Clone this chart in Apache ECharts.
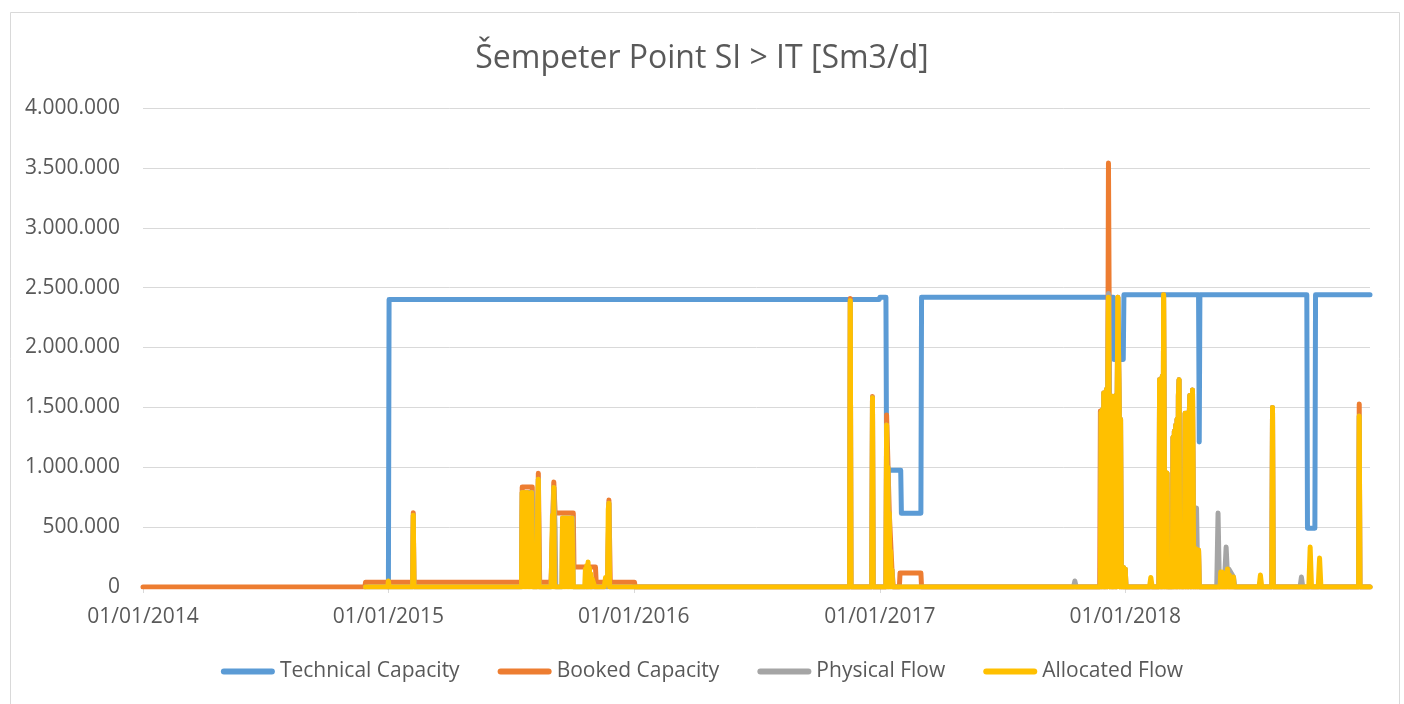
<!DOCTYPE html>
<html><head><meta charset="utf-8">
<script src="https://cdn.jsdelivr.net/npm/echarts@6/dist/echarts.min.js"></script>
<style>html,body{margin:0;padding:0;background:#fff}#c{width:1404px;height:704px}</style>
</head><body><div id="c"></div><script>
const titleText = 'Šempeter Point SI > IT [Sm3/d]';
const seriesNames = ['Technical Capacity', 'Booked Capacity', 'Physical Flow', 'Allocated Flow'];
const seriesColors = ['#5b9bd5', '#ed7d31', '#a5a5a5', '#ffc000'];
const yTicks = [0, 500000, 1000000, 1500000, 2000000, 2500000, 3000000, 3500000, 4000000];
const xStart = '2014-01-01';
const xEnd = '2018-12-31';

const technicalCapacity = [
  ['2015-01-01', 0], ['2015-01-02', 2400000], ['2016-12-31', 2400000],
  ['2017-01-01', 2420000], ['2017-01-10', 2420000], ['2017-01-11', 975000],
  ['2017-02-01', 975000], ['2017-02-02', 615000], ['2017-03-03', 615000],
  ['2017-03-04', 2420000], ['2017-12-14', 2420000], ['2017-12-15', 1900000],
  ['2017-12-29', 1900000], ['2017-12-30', 2440000], ['2018-04-20', 2440000],
  ['2018-04-21', 1210000], ['2018-04-22', 2440000], ['2018-09-28', 2440000],
  ['2018-09-29', 490000], ['2018-10-10', 490000], ['2018-10-11', 2440000],
  ['2018-12-31', 2440000]
];

// Dense winter 2017/18 flows (daily swings)
const allocatedDec2017 = [
  ['2017-11-25', 0], ['2017-11-26', 1460000], ['2017-11-27', 0], ['2017-11-28', 1480000], ['2017-11-29', 0],
  ['2017-11-30', 1620000], ['2017-12-01', 0], ['2017-12-02', 1600000], ['2017-12-03', 0],
  ['2017-12-04', 1650000], ['2017-12-05', 0], ['2017-12-06', 1700000], ['2017-12-07', 2420000],
  ['2017-12-08', 2420000], ['2017-12-09', 0], ['2017-12-10', 1600000], ['2017-12-11', 0],
  ['2017-12-12', 1580000], ['2017-12-13', 0], ['2017-12-14', 1590000], ['2017-12-15', 0],
  ['2017-12-16', 1580000], ['2017-12-17', 0], ['2017-12-18', 1600000], ['2017-12-19', 0],
  ['2017-12-20', 1600000], ['2017-12-21', 2420000], ['2017-12-22', 2420000], ['2017-12-23', 1500000],
  ['2017-12-24', 0], ['2017-12-25', 1400000], ['2017-12-26', 165000], ['2017-12-27', 0],
  ['2017-12-28', 165000], ['2017-12-29', 0], ['2017-12-30', 160000], ['2017-12-31', 0],
  ['2018-01-01', 150000], ['2018-01-02', 0]
];
const bookedDec2017 = [
  ['2017-11-24', 0], ['2017-11-25', 1470000], ['2017-11-26', 1470000], ['2017-11-27', 0], ['2017-11-28', 1480000], ['2017-11-29', 0],
  ['2017-11-30', 1620000], ['2017-12-01', 0], ['2017-12-02', 1600000], ['2017-12-03', 0],
  ['2017-12-04', 1650000], ['2017-12-05', 0], ['2017-12-06', 1700000], ['2017-12-07', 3540000],
  ['2017-12-08', 2420000], ['2017-12-09', 0], ['2017-12-10', 1600000], ['2017-12-11', 0],
  ['2017-12-12', 1580000], ['2017-12-13', 0], ['2017-12-14', 1590000], ['2017-12-15', 0],
  ['2017-12-16', 1580000], ['2017-12-17', 0], ['2017-12-18', 1600000], ['2017-12-19', 0],
  ['2017-12-20', 1600000], ['2017-12-21', 2420000], ['2017-12-22', 2420000], ['2017-12-23', 1500000],
  ['2017-12-24', 0], ['2017-12-25', 1400000], ['2017-12-26', 165000], ['2017-12-27', 0],
  ['2017-12-28', 165000], ['2017-12-29', 0], ['2017-12-30', 160000], ['2017-12-31', 0],
  ['2018-01-01', 150000], ['2018-01-02', 0]
];
const physicalDec2017 = [
  ['2017-11-25', 0], ['2017-11-26', 1460000], ['2017-11-27', 0], ['2017-11-28', 1480000], ['2017-11-29', 0],
  ['2017-11-30', 1620000], ['2017-12-01', 0], ['2017-12-02', 1600000], ['2017-12-03', 0],
  ['2017-12-04', 1650000], ['2017-12-05', 0], ['2017-12-06', 1700000], ['2017-12-07', 2450000],
  ['2017-12-08', 2420000], ['2017-12-09', 0], ['2017-12-10', 1600000], ['2017-12-11', 0],
  ['2017-12-12', 1580000], ['2017-12-13', 0], ['2017-12-14', 1590000], ['2017-12-15', 0],
  ['2017-12-16', 1580000], ['2017-12-17', 0], ['2017-12-18', 1600000], ['2017-12-19', 0],
  ['2017-12-20', 1600000], ['2017-12-21', 2420000], ['2017-12-22', 2420000], ['2017-12-23', 1500000],
  ['2017-12-24', 0], ['2017-12-25', 1400000], ['2017-12-26', 165000], ['2017-12-27', 0],
  ['2017-12-28', 165000], ['2017-12-29', 0], ['2017-12-30', 160000], ['2017-12-31', 0],
  ['2018-01-01', 150000], ['2018-01-02', 0]
];
const flowSpring2018 = [
  ['2018-02-20', 0], ['2018-02-21', 1730000], ['2018-02-22', 0], ['2018-02-23', 1730000], ['2018-02-24', 0],
  ['2018-02-25', 1760000], ['2018-02-26', 0], ['2018-02-27', 2440000], ['2018-02-28', 2440000],
  ['2018-03-01', 0], ['2018-03-02', 952000], ['2018-03-03', 0], ['2018-03-04', 952000], ['2018-03-05', 0],
  ['2018-03-12', 0], ['2018-03-13', 1250000], ['2018-03-14', 0], ['2018-03-15', 1300000], ['2018-03-16', 0],
  ['2018-03-17', 1350000], ['2018-03-18', 0], ['2018-03-19', 1400000], ['2018-03-20', 0],
  ['2018-03-21', 1600000], ['2018-03-22', 1730000], ['2018-03-23', 0], ['2018-03-24', 400000],
  ['2018-03-25', 0], ['2018-03-26', 380000], ['2018-03-27', 0], ['2018-03-28', 367000],
  ['2018-03-29', 0], ['2018-03-30', 367000], ['2018-03-31', 1450000], ['2018-04-01', 0],
  ['2018-04-02', 1450000], ['2018-04-03', 0], ['2018-04-04', 1450000], ['2018-04-05', 0],
  ['2018-04-06', 1400000], ['2018-04-07', 1600000], ['2018-04-08', 0], ['2018-04-09', 1600000],
  ['2018-04-10', 0], ['2018-04-11', 1645000], ['2018-04-12', 1645000], ['2018-04-13', 0],
  ['2018-04-14', 330000], ['2018-04-15', 0], ['2018-04-16', 320000]
];

const bookedCapacity = [
  ['2014-01-01', 0], ['2014-11-27', 0], ['2014-11-28', 40000],
  ['2015-02-06', 40000], ['2015-02-07', 620000], ['2015-02-08', 40000],
  ['2015-07-18', 40000], ['2015-07-19', 835000], ['2015-08-03', 835000], ['2015-08-04', 40000],
  ['2015-08-10', 40000], ['2015-08-12', 950000], ['2015-08-14', 40000],
  ['2015-08-31', 40000], ['2015-09-04', 877000], ['2015-09-06', 618000],
  ['2015-10-03', 618000], ['2015-10-04', 167000], ['2015-11-05', 167000], ['2015-11-06', 40000],
  ['2015-11-23', 40000], ['2015-11-25', 727000], ['2015-11-27', 40000],
  ['2016-01-02', 40000], ['2016-01-03', 0],
  ['2016-11-17', 0], ['2016-11-18', 2410000], ['2016-11-19', 0],
  ['2016-12-20', 0], ['2016-12-21', 1590000], ['2016-12-22', 0],
  ['2017-01-10', 0], ['2017-01-11', 1436000], ['2017-01-15', 618000], ['2017-01-19', 142000], ['2017-01-21', 0],
  ['2017-01-30', 0], ['2017-01-31', 117000], ['2017-03-03', 117000], ['2017-03-04', 0],
  ...bookedDec2017,
  ...flowSpring2018,
  ['2018-04-17', 0], ['2018-04-18', 310000], ['2018-04-19', 0], ['2018-04-20', 309000], ['2018-04-21', 0],
  ['2018-08-07', 0], ['2018-08-08', 1500000], ['2018-08-09', 0],
  ['2018-12-14', 0], ['2018-12-15', 1528000], ['2018-12-16', 0], ['2018-12-31', 0]
];

const physicalFlow = [
  ['2014-11-28', 0],
  ['2015-02-06', 0], ['2015-02-07', 600000], ['2015-02-08', 0],
  ['2015-07-18', 0], ['2015-07-19', 790000], ['2015-08-03', 790000], ['2015-08-04', 0],
  ['2015-08-10', 0], ['2015-08-12', 900000], ['2015-08-13', 0],
  ['2015-08-31', 0], ['2015-09-04', 830000], ['2015-09-06', 480000], ['2015-09-07', 0],
  ['2015-09-16', 0], ['2015-09-17', 576000], ['2015-10-02', 576000], ['2015-10-03', 0],
  ['2015-11-23', 0], ['2015-11-25', 700000], ['2015-11-26', 0],
  ['2016-11-17', 0], ['2016-11-18', 2390000], ['2016-11-19', 0],
  ['2016-12-20', 0], ['2016-12-21', 1580000], ['2016-12-22', 0],
  ['2017-01-10', 0], ['2017-01-11', 1353000], ['2017-01-12', 0], ['2017-01-13', 1000000], ['2017-01-14', 0],
  ['2017-01-15', 618000], ['2017-01-16', 0], ['2017-01-19', 142000], ['2017-01-20', 0],
  ['2017-10-16', 0], ['2017-10-18', 50000], ['2017-10-20', 0],
  ...physicalDec2017,
  ...flowSpring2018,
  ['2018-04-17', 660000], ['2018-04-18', 660000], ['2018-04-19', 0], ['2018-04-20', 300000], ['2018-04-21', 0],
  ['2018-05-17', 0], ['2018-05-19', 618000], ['2018-05-21', 0], ['2018-05-29', 100000],
  ['2018-05-31', 334000], ['2018-06-02', 100000], ['2018-06-04', 150000], ['2018-06-11', 83000], ['2018-06-13', 0],
  ['2018-08-07', 0], ['2018-08-08', 1500000], ['2018-08-09', 0],
  ['2018-09-18', 0], ['2018-09-20', 83000], ['2018-09-22', 0],
  ['2018-12-14', 0], ['2018-12-15', 1428000], ['2018-12-16', 0], ['2018-12-31', 0]
];

const allocatedFlow = [
  ['2014-11-28', 0], ['2014-12-31', 0], ['2015-01-01', 50000], ['2015-01-02', 0],
  ['2015-02-06', 0], ['2015-02-07', 600000], ['2015-02-08', 0],
  ['2015-07-18', 0], ['2015-07-19', 790000], ['2015-07-20', 0], ['2015-07-21', 790000], ['2015-07-22', 0],
  ['2015-07-23', 790000], ['2015-07-24', 0], ['2015-07-25', 790000], ['2015-07-26', 0],
  ['2015-07-27', 790000], ['2015-07-28', 0], ['2015-07-29', 780000], ['2015-07-30', 0],
  ['2015-07-31', 620000], ['2015-08-01', 0], ['2015-08-02', 790000], ['2015-08-03', 790000], ['2015-08-04', 0],
  ['2015-08-10', 0], ['2015-08-11', 700000], ['2015-08-12', 900000], ['2015-08-13', 0],
  ['2015-08-31', 0], ['2015-09-02', 600000], ['2015-09-03', 0], ['2015-09-04', 830000], ['2015-09-05', 0],
  ['2015-09-16', 0], ['2015-09-17', 576000], ['2015-09-18', 0], ['2015-09-19', 576000], ['2015-09-20', 0],
  ['2015-09-21', 576000], ['2015-09-22', 0], ['2015-09-23', 576000], ['2015-09-24', 0],
  ['2015-09-25', 576000], ['2015-09-26', 0], ['2015-09-27', 576000], ['2015-09-28', 0],
  ['2015-09-29', 576000], ['2015-09-30', 0], ['2015-10-01', 576000], ['2015-10-02', 576000], ['2015-10-03', 0],
  ['2015-10-20', 0], ['2015-10-21', 150000], ['2015-10-22', 0], ['2015-10-23', 180000], ['2015-10-24', 0],
  ['2015-10-25', 209000], ['2015-10-26', 0], ['2015-10-27', 160000], ['2015-10-28', 0],
  ['2015-10-29', 110000], ['2015-10-30', 0], ['2015-10-31', 70000], ['2015-11-02', 80000], ['2015-11-04', 0],
  ['2015-11-18', 0], ['2015-11-20', 80000], ['2015-11-23', 60000], ['2015-11-24', 650000], ['2015-11-25', 700000], ['2015-11-26', 0],
  ['2016-11-17', 0], ['2016-11-18', 2390000], ['2016-11-19', 0],
  ['2016-12-20', 0], ['2016-12-21', 1580000], ['2016-12-22', 0],
  ['2017-01-10', 0], ['2017-01-11', 1353000], ['2017-01-12', 0], ['2017-01-13', 1000000], ['2017-01-14', 0],
  ['2017-01-15', 618000], ['2017-01-16', 0], ['2017-01-17', 300000], ['2017-01-18', 0], ['2017-01-19', 142000], ['2017-01-20', 0],
  ...allocatedDec2017,
  ['2018-02-06', 0], ['2018-02-08', 80000], ['2018-02-10', 0],
  ...flowSpring2018,
  ['2018-04-17', 0], ['2018-04-18', 310000], ['2018-04-19', 0], ['2018-04-20', 309000], ['2018-04-21', 0],
  ['2018-05-22', 0], ['2018-05-23', 125000], ['2018-05-24', 0], ['2018-05-25', 125000], ['2018-05-26', 0],
  ['2018-05-27', 110000], ['2018-05-28', 0], ['2018-05-29', 100000], ['2018-05-30', 0], ['2018-05-31', 120000],
  ['2018-06-01', 0], ['2018-06-02', 150000], ['2018-06-03', 150000], ['2018-06-04', 0], ['2018-06-05', 100000],
  ['2018-06-06', 0], ['2018-06-07', 80000], ['2018-06-08', 0], ['2018-06-09', 80000], ['2018-06-10', 0],
  ['2018-06-11', 83000], ['2018-06-12', 0],
  ['2018-07-19', 0], ['2018-07-21', 100000], ['2018-07-23', 0],
  ['2018-08-07', 0], ['2018-08-08', 1500000], ['2018-08-09', 0],
  ['2018-10-01', 0], ['2018-10-03', 334000], ['2018-10-05', 0],
  ['2018-10-15', 0], ['2018-10-17', 242000], ['2018-10-19', 0],
  ['2018-12-14', 0], ['2018-12-15', 1428000], ['2018-12-16', 0], ['2018-12-31', 0]
];

const seriesData = [technicalCapacity, bookedCapacity, physicalFlow, allocatedFlow];
const FONT = 'Open Sans';
const pad = n => (n < 10 ? '0' : '') + n;

const chart = echarts.init(document.getElementById('c'), null, {renderer: 'canvas'});
chart.setOption({
  animation: false,
  backgroundColor: '#fff',
  textStyle: {fontFamily: FONT},
  graphic: [{
    type: 'rect', left: 8, top: 10, silent: true,
    shape: {x: 0.5, y: 0.5, width: 1389, height: 700},
    style: {fill: 'none', stroke: '#d9d9d9', lineWidth: 1}
  }],
  title: {
    text: titleText, left: 'center', top: 38,
    textStyle: {fontFamily: FONT, fontSize: 32, fontWeight: 'normal', color: '#595959'}
  },
  legend: {
    data: seriesNames, left: 'center', top: 656, itemGap: 38,
    itemWidth: 54, itemHeight: 6,
    icon: 'path://M3,0 L51,0 A3,3 0 0 1 51,6 L3,6 A3,3 0 0 1 3,0 Z',
    textStyle: {fontFamily: FONT, fontSize: 21, color: '#595959'}
  },
  grid: {left: 143, right: 34, top: 108, bottom: 117, containLabel: false, outerBoundsMode: 'none'},
  xAxis: {
    type: 'time', min: xStart, max: xEnd, splitNumber: 5,
    minInterval: 300 * 86400000,
    axisLine: {lineStyle: {color: '#d9d9d9', width: 1}},
    axisTick: {show: true, length: 6, lineStyle: {color: '#d9d9d9'}},
    splitLine: {show: false},
    axisLabel: {
      fontFamily: FONT, fontSize: 21, color: '#595959', margin: 20,
      showMaxLabel: false,
      formatter: v => { const d = new Date(v); return pad(d.getDate()) + '/' + pad(d.getMonth() + 1) + '/' + d.getFullYear(); }
    }
  },
  yAxis: {
    type: 'value', min: yTicks[0], max: yTicks[yTicks.length - 1], interval: yTicks[1] - yTicks[0],
    axisLine: {show: false}, axisTick: {show: false},
    splitLine: {lineStyle: {color: '#d9d9d9', width: 1}},
    axisLabel: {
      fontFamily: FONT, fontSize: 21, color: '#595959', margin: 23,
      formatter: v => String(v).replace(/\B(?=(\d{3})+(?!\d))/g, '.')
    }
  },
  series: seriesNames.map((name, i) => ({
    name, type: 'line', data: seriesData[i], showSymbol: false, symbol: 'none',
    sampling: null, smooth: false,
    color: seriesColors[i],
    lineStyle: {color: seriesColors[i], width: 5, cap: 'round', join: 'round'},
    emphasis: {disabled: true}
  }))
});
</script></body></html>
